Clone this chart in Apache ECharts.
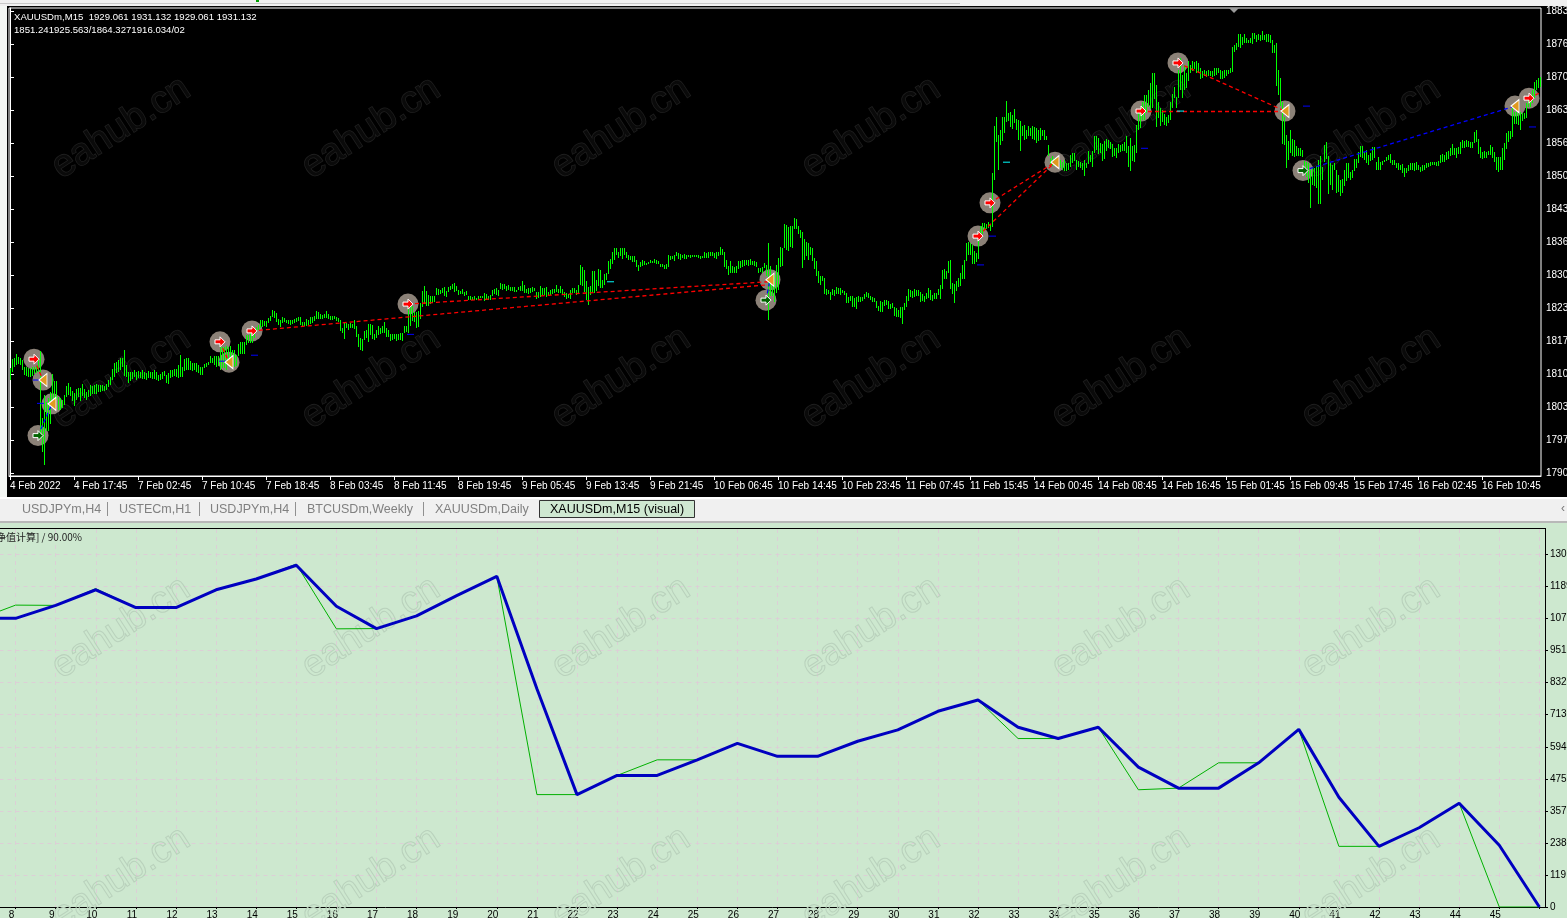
<!DOCTYPE html>
<html><head><meta charset="utf-8">
<script src="https://cdn.jsdelivr.net/npm/echarts@6/dist/echarts.min.js"></script>
<style>html,body{margin:0;padding:0;background:#f0f0f0;overflow:hidden}#c{width:1567px;height:918px}</style>
</head><body><div id="c"></div>
<script>
// Price bars: flat high,low pairs, one pair per M15 bar
const barsA=[1811.2,1808.8,1813,1810.4,1813.2,1811.4,1814,1811.8,1813.4,1812,1813.2,1811.8,1812.8,1810.8,1811.4,1809.8,1811.4,1809.6,1811.2,1809.4,1811.2,1809.4,1811.4,1809.6,1811.4,1810,1811.6,1810.2,1813.2,1810.4,1814.6,1796.8,1801.2,1794.4,1805.8,1791.6,1804.4,1798.6,1805.2,1798.6,1806.4,1800,1810,1803.8,1808.6,1804.8,1808.6,1804.8,1805.4,1802.8,1805.2,1802.8,1804.8,1803.2,1805.8,1803.8,1807.6,1805.4,1808.2,1805.8,1807.4,1805.6,1806.6,1804.6,1806.2,1803.6,1807,1804.8,1807.2,1805.4,1807.2,1804.6,1808,1805.6,1807,1805.2,1806.4,1804.8,1806.8,1805.4,1807.8,1805.6,1807.6,1806,1807.8,1806,1808,1806,1807.8,1806.4,
1807.8,1806.4,1807.8,1806.6,1807.6,1806.6,1808,1806.8,1808.8,1807.4,1809.4,1807.8,1811,1808.8,1812.2,1809.4,1812.4,1810.2,1812.8,1810.4,1813.2,1810.8,1813.2,1811.4,1814.8,1809.6,1811.8,1809.4,1810.4,1808.2,1810.4,1808.6,1810.4,1809,1810.8,1809.4,1810.4,1808.8,1810.6,1809.2,1810.4,1809.2,1810.8,1809,1810.4,1809,1810.2,1808.8,1810.6,1809.2,1810.4,1809.2,1810.4,1809,1810.8,1809,1810.4,1808.8,1809.8,1808.6,1810,1808.8,1810.4,1809,1810.6,1809.6,1809.8,1808.2,1810.2,1808,1810.8,1809.2,1810.8,1809.4,1811,1809.6,1811,1809.4,1811.8,1809.2,1813.8,1809.4,1811.4,1809.4,1813,1810.6,1813.2,1810.8,1813.2,1810.8,1812.6,1810.8,1812.2,1810.6,1812.2,1810.8,1812.2,1810.4,1811.8,1810.2,1811.4,1809.8,1811.4,1809.8,1812,1811.2,1812.2,1811.4,1812.4,1811.8,1813.6,1812.2,1813.2,1812.2,1813.6,1811.8,1813.6,1811.4,1813.6,1811.6,1815.4,1810.8,1815.4,1811.2,1815.4,1811.2,1815.6,1810.8,1815.4,1811.8,1815.6,1812.4,1814.8,1811.8,1814.8,1811.4,1813.8,1811.6,1816,1813.6,1816.4,1814,1816.4,1814,1816.4,1814,1817.8,1815.8,1817.8,1816.2,1818.2,1816.2,1818.2,1816.2,1819.2,1817.2,1819.4,1818.4,1819.8,1818.8,1820.8,1819.2,1820.8,1819.4,1820.6,1819.6];
const barsB=[1820.6,1819.4,1821.4,1820.3,1821.8,1820.8,1822.9,1821.4,1822.8,1821.3,1822.3,1820.4,1821.1,1819.8,1820.9,1819.4,1821.6,1820.4,1821.3,1820.4,1820.8,1820.1,1820.8,1820,1820.8,1819.8,1820.9,1820.1,1821,1820.1,1821.2,1820.4,1821.6,1820.8,1821.6,1820,1820.4,1819.6,1820.4,1819.6,1821.1,1819.6,1820.8,1819.8,1821.6,1820.1,1821.6,1820.3,1821.8,1820.8,1822.8,1821.1,1822.5,1821.1,1822.1,1821,1822,1821.1,1822.1,1821.2,1822.8,1821.4,1822.1,1821,1821.8,1820.9,1821.8,1820.9,1821.8,1821.1,1821.6,1820.8,1821.3,1820.4,1820.9,1818.6,1819.3,1818.3,1820.4,1816.9,1820.2,1819.1,1820.1,1818.8,1820.2,1819.1,1820.1,1819.2,1820.8,1818.9,1819.6,1817.4,1818.1,1815.5,1817.2,1814.7,1817.1,1814.7,1818.6,1816.7,1818.8,1817.1,1820,1816.4,1820,1817.8,1819.8,1816.9,1818,1816.7,1818.8,1817.1,1819.6,1817.8,1819.3,1818.1,1819.6,1818.1,1820.4,1818.1,1819.3,1817.5,1818.8,1817.4,1818,1816.5,1818,1816.7,1818,1816.9,1818,1816.6,1818.1,1816.9,1818.3,1816.9,1818.3,1816.7,1819.6,1818.1,1819.6,1818.4,1823.8,1818.4,1823.6,1819.8,1823.8,1820.8,1822.5,1820.4,1822.5,1819.2,1822.7,1819.4,1824.4,1821.1,1826.8,1823.5,1827.8,1824.1,1826.8,1823.8,1826,1823.8,1825.7,1824.1,1825.8,1824.3,1825.8,1824.5,1827.3,1825.8,1827.2,1826,1827,1826.1,1827.4,1826.3,1827.6,1825.8,1826.7,1825.5,1827.5,1826.4,1827.7,1826.8,1828.2,1827.2,1828.3,1826.5,1827.8,1826.8,1827,1826,1826.7,1826,1827.2,1826.1,1826.6,1825.8,1826.8,1826,1825.8,1825,1825.7,1824.9,1825.5,1824.8,1825.8,1824.9,1825.3,1824.9,1825.7,1824.9,1825.8,1825.3,1825.8,1825.3,1826.3,1824.6,1826.1,1824.8,1825.8,1824.9,1826,1824.9,1827,1825.8,1827.2,1826.1,1827.4,1825.9,1827,1825.8,1828.3,1827,1828.2,1827,1828.2,1827.2,1827.8,1826.8,1828,1827,1827.5,1826.7,1827.5,1826.6,1827.5,1826.5,1827,1826.5,1827.5,1826.8,1827.8,1826.8,1828.7,1826.7];
const barsC=[1828,1826.3,1827.1,1826.2,1827.3,1826,1827.3,1826.3,1827.6,1826.6,1827.3,1826.6,1826.5,1825.1,1826.5,1825.3,1827.8,1825.6,1827.3,1825.8,1827.3,1825.8,1827.5,1825.5,1826.6,1826,1827,1826,1827.1,1826,1827.1,1826.2,1828,1826.6,1827.1,1826.3,1827.8,1826.3,1827.1,1826,1826.6,1825.5,1826.3,1825.1,1826.1,1825.3,1827,1825.1,1827.4,1826.3,1827.4,1826.3,1827,1826,1828,1826.2,1832,1828,1831.5,1827.6,1831,1826.6,1828.8,1825,1827.5,1823.8,1827.8,1826,1830.7,1826.4,1830.7,1826.3,1828.9,1826.6,1831.1,1827.6,1831,1827.3,1829,1827.3,1830.2,1828,1830.3,1828.9,1832.7,1830,1833.2,1831.1,1834.5,1832,1835.5,1833,1835.5,1834,1834.7,1833.4,1835.4,1833.7,1835.5,1833.2,1835.5,1834,1834.5,1833.2,1834,1833,1833.8,1832.9,1833.7,1832.5,1833.7,1832.5,1833,1831.5,1832,1830.7,1832.5,1831.5,1833,1831.7,1832.8,1832,1832.3,1831.8,1832.5,1832,1832.9,1832.2,1832.7,1832.2,1833.2,1832.3,1832.9,1832,1832.8,1832.2,1832.2,1831.5,1832.2,1831.5,1832,1831.1,1832.2,1831.1,1834,1831.5,1833.7,1832.9,1833.7,1833,1834,1832.7,1834.5,1833.6,1834.4,1833.2,1834.2,1833,1834,1833.4,1834.2,1833.2,1834,1833.2,1834,1833.5,1834,1833.4,1834,1833.6,1834,1833.5,1833.9,1833.4,1833.9,1833.2,1833.7,1833,1833.7,1833.2,1834.5,1833.2,1834.4,1833.4,1834.6,1833.4,1834.5,1833.6,1834.5,1833.6,1834.4,1833.4,1834.6,1833.2,1834.6,1833.7,1835.7,1834,1835.2,1834,1834.5,1831.5,1833,1831.1,1831.7,1829.8,1832.7,1830.2,1831.7,1830.3,1831.5,1830.3,1831.7,1830.3,1832.7,1831,1832.7,1831.3,1832.9,1831.5,1833,1831.7,1833,1832,1833,1831.7,1833.2,1832,1832.8,1832,1832.7,1831.7,1832.5,1831.5,1831.3,1830.3,1831.3,1830.5,1831.5,1830.3,1832.3,1831.3,1832,1829.7,1836.4,1820.9,1831.7,1825.6,1829.7,1825.6,1830,1824.6,1832,1826.3,1833.4,1827];
const barsD=[1835.7,1831.7,1835.4,1831.8,1840.3,1835.4,1840.1,1835,1839.7,1834.9,1839.9,1835.6,1839.9,1835.4,1841.4,1839.1,1841.2,1839.1,1839.9,1838.3,1839.1,1837.4,1838.7,1831.5,1837.2,1833,1836.7,1833.8,1836.4,1833,1835.7,1834,1835.4,1832.8,1833.4,1831.2,1832.7,1829.7,1830.7,1828.2,1829.7,1827.8,1829.8,1828.7,1829.3,1826.1,1827.2,1826,1827,1826.1,1826.6,1825,1827.1,1825.8,1827,1825.8,1827.5,1826,1827.3,1826,1827.3,1825.8,1827,1826.3,1826.8,1826,1826.3,1824.2,1825.5,1824.3,1825.8,1824.8,1825.8,1823.6,1825.3,1823.4,1825.5,1823.1,1825.8,1824.5,1825.5,1824.4,1825.6,1824.8,1826.2,1825.1,1826.6,1825.5,1826.3,1825.3,1825.8,1825,1825.6,1824.6,1825.3,1824.4,1824.8,1823.4,1823.8,1822.7,1824.8,1822.6,1824.6,1822.6,1825,1823.8,1825,1824,1824.8,1823.1,1824.1,1823.1,1824.4,1823.3,1823.5,1821.7,1823.3,1821.5,1822.9,1821.5,1823.5,1821.3,1823.5,1820,1824.3,1822.9,1825.8,1823.6,1827.2,1824.8,1827,1825.5,1826.8,1825.3,1827.2,1825.5,1827,1825.8,1827,1825.8,1826.6,1824.6,1826.2,1824.8,1825.8,1824.5,1826.3,1825.1,1827.3,1825.3,1827,1825,1826,1824.8,1826.3,1825.1,1826.4,1825.1,1827.2,1826,1828,1825.2,1831,1827.2,1831.1,1829.1,1830.7,1829,1832.7,1830.3,1832.9,1827.1,1828.3,1826,1828.2,1824.4,1828.7,1826.6,1829.3,1827.5,1830.3,1827.6,1832,1829.2,1833,1829.2,1836.4,1832.7,1836.7,1834,1836.5,1834,1836,1832.2,1834.9,1832.2,1834.4,1832.5,1837.7,1833.2,1839.9,1837.7,1840.4,1838.1,1840.4,1839.1,1840.3,1839.2,1840.6,1839.4,1840.3,1838.9];
const barsE=[1850.5,1839.7,1859.9,1849.1,1861.8,1856.7,1858.2,1851.2,1859.2,1856.2,1861.9,1857.1,1861.9,1858.6,1865.1,1860.9,1862.6,1860.9,1862.9,1859.8,1862.2,1859.4,1863.4,1860.6,1861.4,1859.2,1861.2,1857.1,1860.9,1854.9,1859.9,1857.9,1860.2,1857.2,1859.2,1857.3,1859.9,1857.9,1859.6,1857.9,1859.9,1857.2,1859.8,1857.2,1859.6,1856.5,1859.2,1856.9,1859.6,1857.1,1859.2,1857.9,1859.2,1857.1,1858,1857.2,1856.2,1853.9,1853.5,1851.8,1853.9,1851.8,1853.5,1851.8,1853.5,1851.8,1853.3,1851.7,1853.2,1851.5,1852.8,1851.2,1853.2,1851,1852.6,1851,1852.5,1851,1854.2,1851.8,1854.5,1852.5,1854.5,1852.8,1853.2,1851.2,1853,1851.8,1852.8,1851.5,1852.5,1851,1853.2,1850,1852.6,1851.5,1854.9,1852.2,1854.2,1852.8,1854.9,1851.6,1858,1854.5,1857.9,1855.1,1857.5,1854.2,1856.5,1854.5,1856.4,1853,1856.9,1853.2,1857.3,1854.9,1857.2,1855.5,1856.7,1855.2,1856.4,1853.8,1855.5,1853.8,1855.5,1853.5,1856.4,1854.5,1856.2,1854.7,1856.4,1854.9,1856.7,1854.9,1857.9,1854.5,1856,1851.8,1857.5,1850.8,1855.9,1852.8,1856.2,1852.8,1860.2,1854.5,1862.9,1859.2,1863.9,1859.6,1864.9,1861.2,1866.3,1861.2,1866.3,1862.6,1867.3,1863.9,1868.6,1863.4,1870.6,1863.6,1870.6,1865.3,1868.3,1859.9,1864.9,1861.6,1863.6,1859.9,1863.3,1860.9,1862.4,1860.2,1861.9,1860,1862.2,1860.6,1864.9,1861.2,1866.5,1863.6,1867.8,1865.6,1865.9,1863.6,1871.3,1865.6,1873.7,1867.3,1870.3,1865.6,1872.3,1867.3,1870.6,1867.6,1873,1869,1872.3,1870.6,1873,1871,1872.8,1871.3,1873,1870.6,1872.7,1870.6,1871.7,1869.4,1871,1869.6,1871.3,1870,1871,1869.8,1871.3,1870.1,1871,1870,1871,1869.8,1871.7,1870,1871.7,1870.3,1871.7,1870.6,1871.3,1869.4,1871,1869.4,1871.3,1869.6,1871.3,1870,1871.2,1870.3,1871.7,1870.6,1876,1871,1876.4,1875,1876.8,1875.4,1878.6,1876,1878.6,1875.7,1878,1876.4,1878.6,1876.7,1877.7,1876.7,1877.4,1876.7,1877.7,1876.7,1878.7,1876.4,1878.7,1877.4,1878.4,1877,1878.6,1877.4,1878.4,1877.2,1879.2,1877.4,1878.4,1877.4,1878.6,1877,1878.6,1877,1878.4,1876.8,1877.4,1874.7,1876.4,1874.7,1876.7,1868,1871.3,1866.3,1869.6,1863.9,1864.9,1856.5,1861.9,1856.2,1858.2,1851.6,1856.9,1853,1859.2,1854.5,1857.3,1853.8,1857.2,1853.8,1855.9,1853.8,1855.5,1853.8,1855.5,1853.8,1855.2,1853.7,1853,1851.2,1852.8,1849.8,1852.5,1848.5,1851.2,1843.6,1851.5,1848,1851.5,1847.8,1852,1847.5,1853.2,1844.4,1854,1844.4,1851.8,1849.1,1856.2,1852.8,1856.7,1853.2];
const barsF=[1853.9,1846.3,1852.5,1848.1,1852.1,1847.1,1852.5,1851.1,1851.1,1846.4,1850.1,1846.6,1849.1,1845.9,1849.3,1846.4,1851.1,1847.8,1852.5,1848.8,1852.5,1849.4,1850.8,1849.1,1851.1,1849.4,1853.3,1850.8,1853.3,1851.5,1854.8,1852.5,1856,1853.8,1856,1853.5,1854.8,1853.1,1855.2,1852.5,1854.2,1852.1,1854.5,1852.8,1855.8,1853.1,1855.8,1853.5,1852.8,1851.1,1853.7,1851.1,1852.8,1851.1,1853,1852.1,1853.1,1852.7,1853.7,1852.8,1854.2,1853.1,1854.4,1852.5,1853.1,1852.1,1853.1,1852.1,1852.5,1851.5,1852.5,1851.1,1852.1,1851.1,1852.3,1850.5,1851.6,1849.8,1851.6,1850.5,1852.1,1850.8,1852.5,1851,1852.5,1851.1,1852.6,1851,1852.8,1851.1,1852.1,1851,1851.8,1850.8,1852.1,1850.8,1852.1,1851.1,1852.5,1851.5,1852.5,1851.7,1852.8,1851.9,1852.8,1852.1,1852.8,1852.1,1852.8,1852,1852.9,1851.8,1854.2,1852.5,1854.4,1852.7,1854.2,1852.8,1854.8,1853.1,1855,1853.3,1855.5,1853.8,1856.4,1854.2,1855.5,1854,1855.5,1853.5,1855.8,1854.4,1856.8,1854.4,1857.2,1855.5,1857,1855.5,1857.2,1855.8,1857,1855.7,1856.8,1855.5,1856.8,1855.5,1858.7,1856.5,1859.2,1856.8,1857.3,1854.2,1855.8,1853.5,1854.8,1853.3,1855,1853.5,1854.8,1853.5,1855,1854.2,1856.2,1854.2,1855.8,1853.5,1854.8,1852.8,1853.8,1851.1,1853.8,1850.8,1853.8,1851.1,1855.5,1851.1,1856.5,1853.1,1858.5,1855.2,1859,1856.8,1858.9,1857.2,1863.6,1857.8,1862.9,1860.5,1862.9,1860.4,1862.6,1860.2,1862.9,1859.3,1862.6,1860.9,1862.6,1861.3,1864.6,1861.5,1865.9,1863.9,1865.9,1863.9,1867.3,1864.6,1868.9,1865.6,1869.3,1867.3,1869.6,1867.6,1869.9,1867.9];

const priceTicks=[1790,1796.65,1803.3,1809.95,1816.6,1823.25,1829.9,1836.55,1843.2,1849.85,1856.5,1863.15,1869.8,1876.45,1883.1];
const priceLabels=['1790','1797','1803','1810','1817','1823','1830','1836','1843','1850','1856','1863','1870','1876','1883'];
const timeTicks=[0,32,64,96,128,160,192,224,256,288,320,352,384,416,448,480,512,544,576,608,640,672,704,736];
const timeLabels=['4 Feb 2022','4 Feb 17:45','7 Feb 02:45','7 Feb 10:45','7 Feb 18:45','8 Feb 03:45','8 Feb 11:45','8 Feb 19:45','9 Feb 05:45','9 Feb 13:45','9 Feb 21:45','10 Feb 06:45','10 Feb 14:45','10 Feb 23:45','11 Feb 07:45','11 Feb 15:45','14 Feb 00:45','14 Feb 08:45','14 Feb 16:45','15 Feb 01:45','15 Feb 09:45','15 Feb 17:45','16 Feb 02:45','16 Feb 10:45'];

const buyMarks=[[12,1813],[105,1816.5],[121,1818.7],[199,1824.1],[484,1837.8],[490,1844.5],[565.5,1863],[584,1872.7],[759.5,1865.6]];
const closeMarks=[[16.5,1808.8],[109.5,1812.4],[21,1804],[380,1829],[522.5,1852.7],[637.5,1863],[752.5,1864]];
const sellMarks=[[14,1797.6],[378,1824.9],[646.5,1851]];
const redTrades=[[[121,1818.7],[379,1828]],[[199,1824.1],[379,1828.6]],[[12,1813],[16.5,1808.8]],[[105,1816.5],[109.5,1812.4]],[[484,1837.8],[522.5,1852.7]],[[490,1844.5],[522.5,1852.7]],[[565.5,1863],[637.5,1863]],[[584,1872.7],[637.5,1863]],[[759.5,1865.6],[765.5,1866.8]]];
const blueTrades=[[[14,1797.6],[21,1804]],[[378,1824.9],[380,1829]],[[646.5,1851],[752.5,1864]]];
const blueLevels=[[13.25,1808.8],[15.25,1804.1],[106.25,1812.6],[122.25,1813.8],[200.25,1818],[491.25,1837.8],[485.25,1832],[567.25,1855.5],[648.25,1864],[761.25,1859.8]];
const cyanLevels=[[498.25,1852.7],[585.25,1863],[300.25,1828.6]];

const passIndex=[7,8,9,10,11,12,13,14,15,16,17,18,19,20,21,22,23,24,25,26,27,28,29,30,31,32,33,34,35,36,37,38,39,40,41,42,43,44,45,46];
const balance=[1071,1071,1119,1177,1111,1111,1177,1217,1268,1116,1033,1080,1155,1227,810,417,488,488,546,607,559,559,615,657,726,768,667,625,667,519,441,441,535,659,407,225,294,385,229,0];
const equity=[1064,1120,1119,1181,1111,1111,1177,1217,1272,1032,1033,1080,1155,1227,417,417,488,546,546,607,559,559,615,657,726,768,625,625,667,435,441,535,535,659,225,225,294,385,0,0];
const reportTicks=[0,118.9,237.8,356.7,475.6,594.5,713.4,832.3,951.2,1070.1,1189,1307.9];
const reportLabels=['0','119','238','357','475','594','713','832','951','1070','1189','1308'];

const tabNames=['USDJPYm,H4','USTECm,H1','USDJPYm,H4','BTCUSDm,Weekly','XAUUSDm,Daily'];
const tabX=[22,119,210,307,435];
const tabSep=[107,199,295,423];
const wmX=[121,371,621,871,1121,1371];
const wmYTop=[128,378], wmYBottom=[628,878];

const bars=[].concat(barsA,barsB,barsC,barsD,barsE,barsF);
const barData=[];
for(let i=0;i<bars.length/2;i++) barData.push([i,bars[2*i],bars[2*i+1]]);

const FONT='"Liberation Sans"';
const gfx=[
 {type:'rect',z:-10,shape:{x:7,y:6,width:1560,height:491},style:{fill:'#000'}},
 {type:'rect',z:-10,shape:{x:0,y:0,width:1567,height:3},style:{fill:'#f0f0f0'}},
 {type:'rect',z:-10,shape:{x:0,y:3,width:960,height:1},style:{fill:'#c8c8c8'}},
 {type:'rect',z:-10,shape:{x:256,y:0,width:3,height:2},style:{fill:'#00a000'}},
 {type:'rect',z:-10,shape:{x:0,y:6,width:7,height:491},style:{fill:'#f4f7f4'}},
 {type:'rect',z:-10,shape:{x:0,y:497,width:1567,height:26},style:{fill:'#f0f0f0'}},
 {type:'rect',z:-10,shape:{x:0,y:497,width:1567,height:2},style:{fill:'#ffffff'}},
 {type:'rect',z:-10,shape:{x:0,y:521,width:1567,height:2},style:{fill:'#b8b8b8'}},
 {type:'rect',z:-10,shape:{x:0,y:523,width:1567,height:395},style:{fill:'#cde8cf'}},
 {type:'rect',z:-5,shape:{x:0,y:528,width:1546,height:1},style:{fill:'#000'}},
 {type:'rect',z:-5,shape:{x:539.5,y:500.5,width:155,height:17},style:{fill:'#cfe8d1',stroke:'#333',lineWidth:1}},
 {type:'polygon',z:6,shape:{points:[[1229,8],[1239,8],[1234,13]]},style:{fill:'#9a9a9a'}},
 {type:'text',z:6,x:14,y:17,style:{text:'XAUUSDm,M15  1929.061 1931.132 1929.061 1931.132',fill:'#fff',font:'9.6px '+FONT,textVerticalAlign:'middle'}},
 {type:'text',z:6,x:14,y:30,style:{text:'1851.241925.563/1864.3271916.034/02',fill:'#fff',font:'9.6px '+FONT,textVerticalAlign:'middle'}},
 {type:'text',z:6,x:-4,y:537,style:{text:'净值计算] / 90.00%',fill:'#222',font:'10px "Noto Sans CJK SC"',textVerticalAlign:'middle'}},
 {type:'text',z:6,x:550,y:510,style:{text:'XAUUSDm,M15 (visual)',fill:'#000',font:'12.5px '+FONT,textVerticalAlign:'middle'}},
 {type:'text',z:6,x:1561,y:509,style:{text:'‹',fill:'#777',font:'12px '+FONT,textVerticalAlign:'middle'}}
];
tabNames.forEach((t,i)=>gfx.push({type:'text',z:6,x:tabX[i],y:510,style:{text:t,fill:'#808080',font:'12.5px '+FONT,textVerticalAlign:'middle'}}));
tabSep.forEach(x=>gfx.push({type:'rect',z:6,shape:{x:x,y:502,width:1,height:14},style:{fill:'#909090'}}));
const wm=(x,y,top)=>({type:'text',z:1,x:x,y:y,rotation:33*Math.PI/180,silent:true,style:{text:'eahub.cn',textAlign:'center',textVerticalAlign:'middle',font:'38px "Liberation Sans"',fill:top?'#0a0a0a':'rgba(0,0,0,0)',stroke:top?'#202020':'#b9d1bc',lineWidth:top?1.5:1}});
wmX.forEach(x=>{wmYTop.forEach(y=>gfx.push(wm(x,y,true)));wmYBottom.forEach(y=>gfx.push(wm(x,y,false)));});

const white='#ffffff';
const option={
 animation:false,
 graphic:{elements:gfx},
 grid:[
  {left:9,top:8,width:1532,height:468,show:true,borderColor:white,borderWidth:1,backgroundColor:'transparent',outerBoundsMode:'none'},
  {left:-24.5,top:529,width:1569.5,height:378,outerBoundsMode:'none'}
 ],
 xAxis:[
  {gridIndex:0,type:'value',min:-0.5,max:765.5,splitLine:{show:false},
   axisLine:{show:true,lineStyle:{color:white}},
   axisTick:{show:true,length:4,lineStyle:{color:white},customValues:timeTicks},
   axisLabel:{customValues:timeTicks,color:white,align:'left',margin:5,fontFamily:FONT,fontSize:10,hideOverlap:false,
     formatter:v=>timeLabels[timeTicks.indexOf(v)]||''}},
  {gridIndex:1,type:'value',min:7,max:46.14,interval:1,
   splitLine:{show:true,lineStyle:{color:'#dccfd6',type:[4,4],width:1}},
   axisLine:{show:true,lineStyle:{color:'#000',width:1}},
   axisTick:{show:true,length:2,lineStyle:{color:'#000'}},
   axisLabel:{color:'#000',margin:3,fontFamily:FONT,fontSize:10,padding:[0,8,0,0],showMaxLabel:false,hideOverlap:false,
     formatter:v=>(v>=8&&v<=45)?String(v):''}}
 ],
 yAxis:[
  {gridIndex:0,type:'value',position:'right',min:1789.46,max:1883.77,splitLine:{show:false},
   axisLine:{show:true,lineStyle:{color:white}},
   axisTick:{show:true,length:4,lineStyle:{color:white},customValues:priceTicks},
   axisLabel:{customValues:priceTicks,color:white,margin:5,padding:[2,0,0,0],fontFamily:FONT,fontSize:10,hideOverlap:false,
     formatter:v=>priceLabels[priceTicks.indexOf(v)]||''}},
  {gridIndex:1,type:'value',position:'right',min:0,max:1402.4,
   splitLine:{show:true,lineStyle:{color:'#dccfd6',type:[4,4],width:1}},
   axisLine:{show:true,lineStyle:{color:'#000',width:1}},
   axisTick:{show:true,length:3,lineStyle:{color:'#000'},customValues:reportTicks},
   axisLabel:{customValues:reportTicks,color:'#000',margin:5,fontFamily:FONT,fontSize:10,hideOverlap:false,
     formatter:v=>reportLabels[reportTicks.indexOf(v)]||''}}
 ],
 series:[
  {type:'scatter',z:2,xAxisIndex:0,yAxisIndex:0,silent:true,symbol:'circle',symbolSize:21,itemStyle:{color:'#8b8177',opacity:1},data:[].concat(buyMarks,closeMarks,sellMarks)},
  {type:'custom',z:3,xAxisIndex:0,yAxisIndex:0,silent:true,clip:true,data:barData,encode:{x:0,y:[1,2]},
   renderItem:(p,api)=>{
     const a=api.coord([api.value(0),api.value(1)]),b=api.coord([api.value(0),api.value(2)]);
     return {type:'rect',shape:{x:Math.round(a[0]),y:Math.round(a[1]),width:1,height:Math.max(1,Math.round(b[1]-a[1]))},style:{fill:'#00ff00'}};
   }},
  {type:'lines',z:4,xAxisIndex:0,yAxisIndex:0,coordinateSystem:'cartesian2d',silent:true,lineStyle:{color:'#ff0000',width:1.3,type:[4,3],opacity:1},data:redTrades.map(c=>({coords:c}))},
  {type:'lines',z:4,xAxisIndex:0,yAxisIndex:0,coordinateSystem:'cartesian2d',silent:true,lineStyle:{color:'#0000ff',width:1.3,type:[4,3],opacity:1},data:blueTrades.map(c=>({coords:c}))},
  {type:'scatter',z:4,xAxisIndex:0,yAxisIndex:0,silent:true,symbol:'rect',symbolSize:[7,1],itemStyle:{color:'#0000ff',opacity:1},data:blueLevels},
  {type:'scatter',z:4,xAxisIndex:0,yAxisIndex:0,silent:true,symbol:'rect',symbolSize:[7,1],itemStyle:{color:'#00ffff',opacity:1},data:cyanLevels},
  {type:'scatter',z:5,xAxisIndex:0,yAxisIndex:0,silent:true,symbol:'path://M0 3H5V0L10 5L5 10V7H0Z',symbolSize:[10,10],itemStyle:{color:'#ff0000',borderColor:'#fff',borderWidth:1,opacity:1},data:buyMarks},
  {type:'scatter',z:5,xAxisIndex:0,yAxisIndex:0,silent:true,symbol:'path://M0 3H5V0L10 5L5 10V7H0Z',symbolSize:[10,10],itemStyle:{color:'#006400',borderColor:'#fff',borderWidth:1,opacity:1},data:sellMarks},
  {type:'scatter',z:5,xAxisIndex:0,yAxisIndex:0,silent:true,symbol:'path://M10 0L0 5L10 10Z',symbolSize:[8,13],itemStyle:{color:'#e09a20',borderColor:'#fff',borderWidth:1,opacity:1},data:closeMarks},
  {type:'line',z:3,xAxisIndex:1,yAxisIndex:1,silent:true,showSymbol:false,lineStyle:{color:'#00b000',width:1},data:passIndex.map((x,i)=>[x,equity[i]])},
  {type:'line',z:4,xAxisIndex:1,yAxisIndex:1,silent:true,showSymbol:false,lineStyle:{color:'#0000c0',width:3},data:passIndex.map((x,i)=>[x,balance[i]])}
 ]
};
const chart=echarts.init(document.getElementById('c'),null,{width:1567,height:918,renderer:'canvas'});
chart.setOption(option);
</script>
</body></html>
